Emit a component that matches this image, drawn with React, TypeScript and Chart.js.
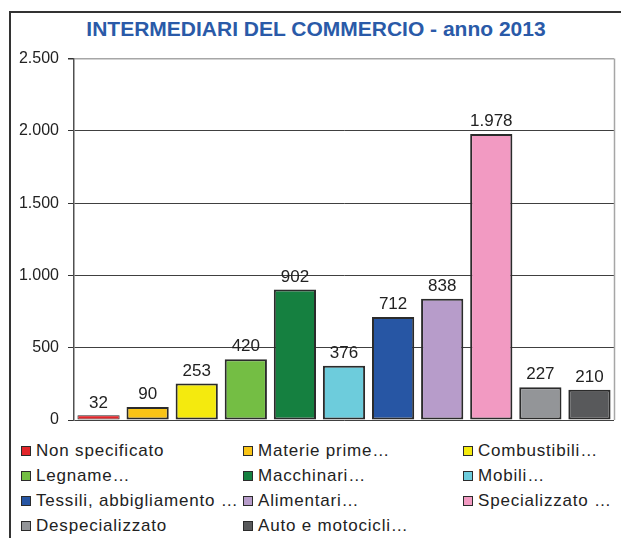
import React, { useEffect, useRef } from "react";
import { Chart, registerables } from "chart.js";

Chart.register(...registerables);

const categories = [
  "Non specificato",
  "Materie prime…",
  "Combustibili…",
  "Legname…",
  "Macchinari…",
  "Mobili…",
  "Tessili, abbigliamento …",
  "Alimentari…",
  "Specializzato …",
  "Despecializzato",
  "Auto e motocicli…",
];
const values = [32, 90, 253, 420, 902, 376, 712, 838, 1978, 227, 210];
const colors = [
  "#E3262B",
  "#F9C416",
  "#F4EA0E",
  "#74BE44",
  "#158040",
  "#6DCCDC",
  "#2756A4",
  "#B79CCA",
  "#F29AC2",
  "#939598",
  "#58595B",
];
const yTicks = [0, 500, 1000, 1500, 2000, 2500];
const title = "INTERMEDIARI DEL COMMERCIO - anno 2013";

const fmt = (v: number) => String(v).replace(/\B(?=(\d{3})+(?!\d))/g, ".");
const FONT = "'Liberation Sans', Arial, sans-serif";

export default function App() {
  const ref = useRef<HTMLCanvasElement | null>(null);

  useEffect(() => {
    if (!ref.current) return;
    const labelPlugin = {
      id: "valueLabels",
      afterDatasetsDraw(chart: any) {
        const ctx = chart.ctx;
        const meta = chart.getDatasetMeta(0);
        ctx.save();
        ctx.font = `17px ${FONT}`;
        ctx.fillStyle = "#222";
        ctx.textAlign = "center";
        ctx.textBaseline = "bottom";
        meta.data.forEach((el: any, i: number) => {
          ctx.fillText(fmt(values[i]), el.x, el.y - 4);
        });
        ctx.restore();
      },
      afterDraw(chart: any) {
        const { ctx, chartArea } = chart;
        ctx.save();
        ctx.strokeStyle = "#a6a6a6";
        ctx.lineWidth = 1.5;
        ctx.beginPath();
        ctx.moveTo(chartArea.right + 0.5, chartArea.top);
        ctx.lineTo(chartArea.right + 0.5, chartArea.bottom);
        ctx.stroke();
        ctx.restore();
      },
    };
    const chart = new Chart(ref.current, {
      type: "bar",
      data: {
        labels: categories,
        datasets: [
          {
            data: values,
            backgroundColor: colors,
            borderColor: "#2b2b2b",
            borderWidth: (c: any) => (values[c.dataIndex] < 60 ? 1 : 2),
            borderSkipped: false,
            categoryPercentage: 1,
            barPercentage: 0.86,
          },
        ],
      },
      options: {
        animation: false,
        responsive: false,
        maintainAspectRatio: false,
        layout: { padding: { top: 11, bottom: 20, right: 7, left: 0 } },
        plugins: {
          legend: { display: false },
          title: { display: false },
          tooltip: { enabled: false },
        },
        scales: {
          x: { display: false },
          y: {
            min: 0,
            max: 2500,
            afterFit(scale: any) {
              scale.width = 74;
            },
            afterBuildTicks(scale: any) {
              scale.ticks = yTicks.map((v) => ({ value: v }));
            },
            ticks: {
              callback: (v: any) => fmt(Number(v)),
              color: "#222",
              font: { size: 16, family: FONT },
              padding: 9,
            },
            grid: {
              color: (c: any) => (c.tick && c.tick.value === 2500 ? "#a6a6a6" : "#404040"),
              lineWidth: (c: any) => (c.tick && c.tick.value === 2500 ? 1.5 : 1),
              tickLength: 6,
              tickColor: "#333",
            },
            border: { display: true, color: "#505050", width: 1.5 },
          },
        },
      },
      plugins: [labelPlugin],
    });
    return () => chart.destroy();
  }, []);

  const colX = [21, 243, 463];
  return (
    <div
      style={{
        position: "absolute",
        left: 0,
        top: 0,
        width: 621,
        height: 538,
        overflow: "hidden",
        background: "#fff",
        fontFamily: FONT,
      }}
    >
      <div
        style={{
          position: "absolute",
          left: 9,
          top: 11,
          width: 700,
          height: 600,
          borderLeft: "2px solid #333",
          borderTop: "2px solid #333",
        }}
      />
      <div
        style={{
          position: "absolute",
          left: 0,
          top: 17,
          width: 632,
          textAlign: "center",
          fontSize: 21,
          lineHeight: "24px",
          fontWeight: "bold",
          color: "#2A5AA8",
          whiteSpace: "nowrap",
        }}
      >
        {title}
      </div>
      <canvas
        ref={ref}
        width={621}
        height={400}
        style={{ position: "absolute", left: 0, top: 40, width: 621, height: 400 }}
      />
      {categories.map((c, i) => {
        const col = i % 3;
        const row = Math.floor(i / 3);
        return (
          <div
            key={c}
            style={{
              position: "absolute",
              left: colX[col],
              top: 451 + row * 25 - 11,
              height: 22,
              display: "flex",
              alignItems: "center",
              fontSize: 17,
              letterSpacing: "0.8px",
              color: "#222",
              whiteSpace: "nowrap",
            }}
          >
            <span
              style={{
                display: "inline-block",
                width: 8,
                height: 8,
                background: colors[i],
                border: "1.5px solid #2b2b2b",
                marginRight: 5,
              }}
            />
            {c}
          </div>
        );
      })}
    </div>
  );
}
